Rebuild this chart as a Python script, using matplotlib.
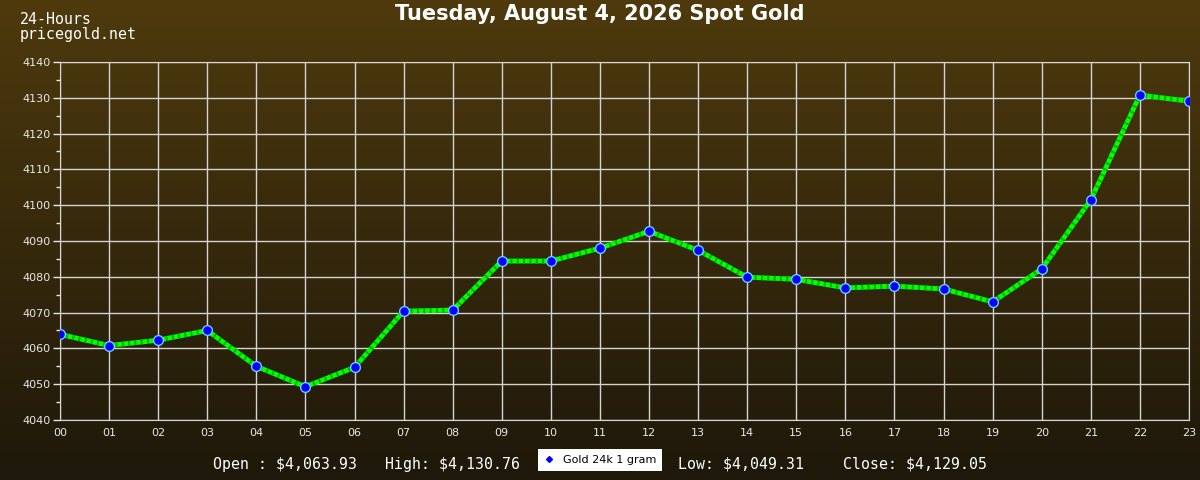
import matplotlib.pyplot as plt
import numpy as np
from matplotlib.lines import Line2D

# hourly spot gold prices (USD/oz)
hours = ['00', '01', '02', '03', '04', '05', '06', '07', '08', '09', '10', '11',
         '12', '13', '14', '15', '16', '17', '18', '19', '20', '21', '22', '23']
prices = [4063.93, 4060.8, 4062.3, 4065.0, 4055.0, 4049.31, 4054.7, 4070.4,
          4070.7, 4084.4, 4084.4, 4088.0, 4092.7, 4087.4, 4079.9, 4079.3,
          4076.9, 4077.4, 4076.6, 4073.0, 4082.2, 4101.5, 4130.76, 4129.05]
y_ticks = [4040, 4050, 4060, 4070, 4080, 4090, 4100, 4110, 4120, 4130, 4140]

title = 'Tuesday, August 4, 2026 Spot Gold'
stats = [('Open : $4,063.93', 213), ('High: $4,130.76', 385),
         ('Low: $4,049.31', 678), ('Close: $4,129.05', 843)]

fig = plt.figure(figsize=(12, 4.8), dpi=100)

# background gradient over the whole figure
bg = fig.add_axes([0, 0, 1, 1], zorder=-10)
top_c = np.array([78, 58, 13]) / 255
bot_c = np.array([30, 24, 10]) / 255
t = np.linspace(0, 1, 256)[:, None, None]
grad = top_c * (1 - t) + bot_c * t
grad = np.repeat(grad, 2, axis=1)
bg.imshow(grad, aspect='auto', extent=[0, 1, 0, 1])
bg.axis('off')

ax = fig.add_axes([60 / 1200, 1 - 420 / 480, 1129 / 1200, 358 / 480])
ax.patch.set_alpha(0)
x = np.arange(len(hours))
ax.plot(x, prices, color='#00ff00', lw=3.5, zorder=3, solid_capstyle='butt')
ax.plot(x, prices, color='#00b000', lw=3.5, ls=(0, (0.4, 0.9)), zorder=3)
ax.plot(x, prices, ls='none', marker='o', ms=7, mfc='#0000ff', mec='#66ccff',
        mew=1, zorder=4)

ax.set_xlim(0, 23)
ax.set_ylim(4040, 4140)
ax.set_xticks(x)
ax.set_xticklabels(hours)
ax.set_yticks(y_ticks)
ax.set_yticks(np.arange(4045, 4140, 10), minor=True)
ax.grid(True, color='#d4d4d4', lw=1)
ax.tick_params(axis='x', length=0, pad=6, labelsize=8, colors='#e8e8e8')
ax.tick_params(axis='y', which='major', length=5, width=1, pad=2,
               labelsize=8, colors='#e8e8e8')
ax.tick_params(axis='y', which='minor', length=3, width=1, color='#e8e8e8')
for s in ax.spines.values():
    s.set_color('#d8d8d8')

fig.text(0.5, 1 - 14 / 480, title, ha='center', va='center', color='white',
         fontsize=15, fontweight='bold', family='DejaVu Sans')
fig.text(20 / 1200, 1 - 19 / 480, '24-Hours', ha='left', va='center',
         color='white', fontsize=10.7, family='DejaVu Sans Mono')
fig.text(20 / 1200, 1 - 34 / 480, 'pricegold.net', ha='left', va='center',
         color='white', fontsize=10.7, family='DejaVu Sans Mono')
for label, px in stats:
    fig.text(px / 1200, 1 - 464 / 480, label, ha='left', va='center',
             color='white', fontsize=10.7, family='DejaVu Sans Mono')

handle = Line2D([0], [0], ls='none', marker='D', ms=3, mfc='#0000ff',
                mec='#0000ff', label='Gold 24k 1 gram')
leg = fig.legend(handles=[handle], loc='center', bbox_to_anchor=(600 / 1200, 1 - 460 / 480),
                 frameon=True, fancybox=False, framealpha=1, edgecolor='white',
                 fontsize=8, handlelength=1, borderpad=0.5, handletextpad=0.8)
leg.get_frame().set_linewidth(0)

fig.savefig('out.png', dpi=100)
